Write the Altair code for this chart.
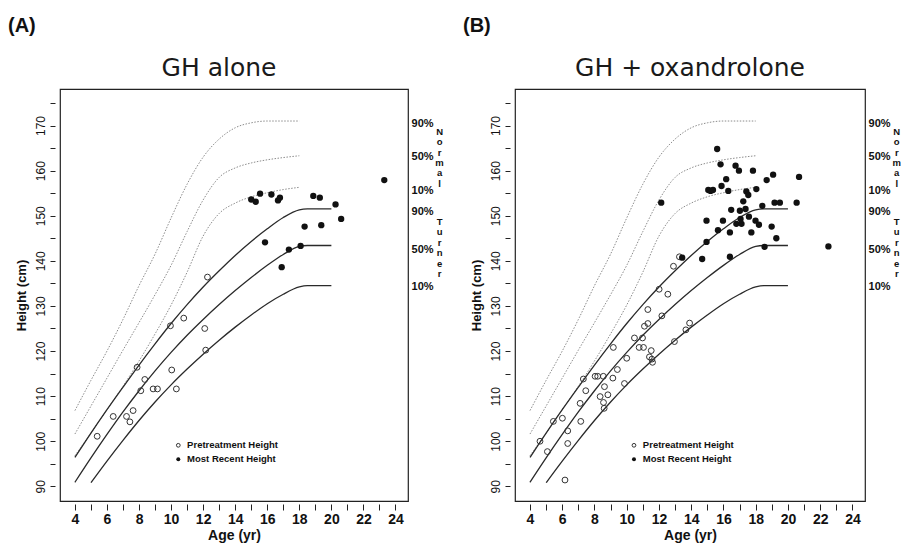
import altair as alt
import pandas as pd

# ---------------- reference curves ----------------
normal_ages = [4, 5, 6, 7, 8, 9, 10, 11, 12, 13, 14, 15, 16, 17, 18]
normal_90 = [106.8, 113.5, 120.0, 127.0, 134.5, 141.5, 149.5, 157.0, 163.0, 167.0, 169.5, 170.6, 171.0, 171.0, 171.0]
normal_50 = [101.6, 107.8, 114.0, 120.2, 126.3, 132.5, 139.0, 146.5, 153.5, 158.5, 160.6, 161.7, 162.4, 162.9, 163.3]
normal_10 = [96.8, 101.8, 107.0, 112.2, 117.8, 123.8, 130.2, 137.5, 145.5, 150.5, 152.8, 154.2, 155.1, 155.8, 156.3]

turner_ages = [4, 5, 6, 7, 8, 9, 10, 11, 12, 13, 14, 15, 16, 17, 18, 18.5, 20]
turner_90 = [96.4, 101.8, 107.0, 112.0, 116.9, 121.6, 126.1, 130.3, 134.2, 137.8, 141.2, 144.3, 147.1, 149.6, 151.3, 151.5, 151.5]
turner_50 = [90.9, 96.3, 101.5, 106.5, 111.2, 115.6, 119.7, 123.5, 127.0, 130.3, 133.4, 136.3, 139.0, 141.4, 143.2, 143.4, 143.4]
turner10_ages = [5, 6, 7, 8, 9, 10, 11, 12, 13, 14, 15, 16, 17, 18, 18.5, 20]
turner_10 = [90.8, 95.6, 100.2, 104.6, 108.7, 112.5, 116.0, 119.3, 122.4, 125.3, 128.0, 130.5, 132.6, 134.2, 134.5, 134.5]

# ---------------- panel A: GH alone ----------------
a_pre_age = [5.39, 6.39, 7.22, 7.43, 7.63, 7.88, 8.11, 8.36, 8.88, 9.15, 9.96, 10.04, 10.33, 10.79, 12.10, 12.16, 12.27]
a_pre_cm = [101.1, 105.5, 105.5, 104.3, 106.8, 116.4, 111.2, 113.7, 111.6, 111.6, 125.6, 115.8, 111.6, 127.3, 125.0, 120.2, 136.4]
a_rec_age = [15.00, 15.28, 15.55, 16.26, 16.67, 16.79, 18.87, 19.28, 20.26, 20.61, 18.33, 19.37, 15.86, 17.35, 18.08, 16.90, 23.30]
a_rec_cm = [153.6, 153.1, 154.9, 154.7, 153.4, 154.0, 154.4, 154.0, 152.5, 149.3, 147.6, 147.9, 144.1, 142.5, 143.3, 138.6, 157.9]

# ---------------- panel B: GH + oxandrolone ----------------
b_pre_age = [4.62, 5.08, 5.45, 6.01, 6.34, 6.34, 6.17, 7.15, 7.11, 7.31, 7.46, 8.04, 8.20, 8.55, 8.62,
             8.35, 8.83, 8.56, 8.60, 9.14, 9.17, 9.42, 9.86, 10.00, 10.48, 10.77, 10.98, 11.04, 11.10,
             11.31, 11.31, 11.52, 11.41, 11.56, 11.60, 12.01, 12.18, 12.55, 12.90, 12.96, 13.67, 13.90, 13.27]
b_pre_cm = [100.0, 97.7, 104.4, 105.1, 102.3, 99.5, 91.4, 104.4, 108.4, 113.8, 111.2, 114.4, 114.4, 114.4, 112.1,
            109.9, 110.3, 108.6, 107.3, 114.0, 120.8, 115.9, 112.8, 118.4, 122.9, 120.8, 122.9, 120.8, 125.5,
            126.1, 129.2, 120.1, 118.7, 118.2, 117.5, 133.7, 127.8, 132.6, 138.8, 122.1, 124.7, 126.2, 140.9]
b_rec_age = [15.61, 15.82, 16.75, 16.96, 17.83, 16.17, 15.88, 15.06, 15.20, 15.35, 16.30, 17.42, 17.54, 18.04,
             18.68, 19.08, 20.69, 20.54, 19.17, 19.50, 18.41, 17.23, 16.48, 17.02, 17.37, 14.95, 15.97, 17.06,
             17.58, 16.80, 17.12, 17.99, 18.20, 18.99, 15.66, 16.40, 17.73, 19.28, 14.95, 18.55, 14.68, 16.40,
             12.14, 13.44, 22.51]
b_rec_cm = [164.8, 161.4, 161.1, 160.0, 160.0, 158.1, 156.6, 155.7, 155.5, 155.7, 155.5, 155.4, 154.6, 155.9,
            157.9, 159.1, 158.6, 152.9, 152.9, 152.9, 152.2, 153.2, 151.3, 151.1, 151.5, 148.9, 148.9, 149.3,
            149.8, 148.2, 148.2, 148.9, 148.0, 147.6, 146.8, 146.3, 146.3, 145.0, 144.2, 143.1, 140.4, 140.9,
            152.9, 140.7, 143.2]

# ---------------- annotation text ----------------
pct_labels = ["90%", "50%", "10%", "90%", "50%", "10%"]
pct_cm = [170.3, 163.1, 155.4, 150.9, 142.3, 134.1]
pct_age = 25.0
normal_letters = ["N", "o", "r", "m", "a", "l"]
normal_letter_cm = [168.6, 166.3, 164.0, 161.7, 159.4, 157.1]
turner_letters = ["T", "u", "r", "n", "e", "r"]
turner_letter_cm = [148.6, 146.3, 144.0, 141.7, 139.4, 137.1]
letter_age = 26.75
legend_labels = ["Pretreatment Height", "Most Recent Height"]
legend_cm = [99.1, 96.0]
legend_marker_age = 10.45
legend_text_age = 11.0

X_DOM = [3.07, 24.78]
Y_DOM = [86.75, 178.1]
FONT = "Liberation Sans"

rows = []
for name, vals in [("n90", normal_90), ("n50", normal_50), ("n10", normal_10)]:
    for a, v in zip(normal_ages, vals):
        rows.append({"age": a, "cm": v, "curve": name})
normal_df = pd.DataFrame(rows)
rows = []
for name, ages, vals in [("t90", turner_ages, turner_90), ("t50", turner_ages, turner_50),
                         ("t10", turner10_ages, turner_10)]:
    for a, v in zip(ages, vals):
        rows.append({"age": a, "cm": v, "curve": name})
turner_df = pd.DataFrame(rows)

pct_df = pd.DataFrame({"age": [pct_age] * len(pct_labels), "cm": pct_cm, "t": pct_labels})
letters_df = pd.DataFrame({"age": [letter_age] * 12,
                           "cm": normal_letter_cm + turner_letter_cm,
                           "t": normal_letters + turner_letters})
leg_text_df = pd.DataFrame({"age": [legend_text_age] * 2, "cm": legend_cm, "t": legend_labels})
leg_open_df = pd.DataFrame({"age": [legend_marker_age], "cm": [legend_cm[0]]})
leg_fill_df = pd.DataFrame({"age": [legend_marker_age], "cm": [legend_cm[1]]})


def panel(pre_age, pre_cm, rec_age, rec_cm, title, tag, width, title_x):
    xs = alt.Scale(domain=X_DOM, nice=False, zero=False)
    ys = alt.Scale(domain=Y_DOM, nice=False, zero=False)
    xax = alt.Axis(values=list(range(4, 25)),
                   labelExpr="datum.value % 2 == 0 ? datum.label : ''",
                   tickSize=6, offset=3, domain=False, grid=False,
                   labelFontSize=14, labelFontWeight="bold", labelPadding=2,
                   labelFlush=False, labelOverlap=False,
                   title="Age (yr)", titleFontSize=14, titleFontWeight="bold", titlePadding=2)
    yax = alt.Axis(values=list(range(90, 180, 5)),
                   labelExpr="datum.value % 10 == 0 ? datum.label : ''",
                   labelAngle=270, tickSize=5, offset=5, domain=False, grid=False,
                   labelFontSize=12, labelPadding=3, labelFlush=False, labelOverlap=False,
                   title="Height (cm)", titleFontSize=13, titleFontWeight="bold", titlePadding=6)
    X = alt.X("age:Q", scale=xs, axis=xax)
    Y = alt.Y("cm:Q", scale=ys, axis=yax)

    normal = alt.Chart(normal_df).mark_line(strokeDash=[1.5, 1.5], color="#8c8c8c", strokeWidth=1,
                                            interpolate="monotone").encode(x=X, y=Y, detail="curve:N")
    turner = alt.Chart(turner_df).mark_line(color="#2a2a2a", strokeWidth=1.3,
                                            interpolate="monotone").encode(x=X, y=Y, detail="curve:N")
    pre = alt.Chart(pd.DataFrame({"age": pre_age, "cm": pre_cm})).mark_point(
        shape="circle", filled=False, size=34, stroke="#333", strokeWidth=1, opacity=1).encode(x=X, y=Y)
    rec = alt.Chart(pd.DataFrame({"age": rec_age, "cm": rec_cm})).mark_circle(
        size=40, color="#111", opacity=1).encode(x=X, y=Y)
    pct = alt.Chart(pct_df).mark_text(align="left", baseline="middle", fontSize=11, fontWeight="bold",
                                      color="#111", font=FONT).encode(x=X, y=Y, text="t:N")
    let = alt.Chart(letters_df).mark_text(align="center", baseline="middle", fontSize=9.5, fontWeight="bold",
                                          color="#111", font=FONT).encode(x=X, y=Y, text="t:N")
    legt = alt.Chart(leg_text_df).mark_text(align="left", baseline="middle", fontSize=9.5, fontWeight="bold",
                                            color="#111", font=FONT).encode(x=X, y=Y, text="t:N")
    lego = alt.Chart(leg_open_df).mark_point(shape="circle", filled=False, size=14, stroke="#333",
                                             strokeWidth=1, opacity=1).encode(x=X, y=Y)
    legf = alt.Chart(leg_fill_df).mark_circle(size=16, color="#111", opacity=1).encode(x=X, y=Y)
    ttl = alt.Chart(pd.DataFrame({"t": [title]})).mark_text(
        align="center", baseline="middle", fontSize=25, font="DejaVu Sans", color="#1a1a1a").encode(
        text="t:N", x=alt.value(title_x), y=alt.value(-21))
    tg = alt.Chart(pd.DataFrame({"t": [tag]})).mark_text(
        align="left", baseline="middle", fontSize=20, fontWeight="bold", font=FONT, color="#111").encode(
        text="t:N", x=alt.value(-52), y=alt.value(-63))
    return alt.layer(normal, turner, pre, rec, pct, let, legt, lego, legf, ttl, tg).properties(
        width=width, height=412)


pa = panel(a_pre_age, a_pre_cm, a_rec_age, a_rec_cm, "GH alone", "(A)", 348, 159)
pb = panel(b_pre_age, b_pre_cm, b_rec_age, b_rec_cm, "GH + oxandrolone", "(B)", 350, 175)

chart = alt.hconcat(pa, pb, spacing=17).properties(
    padding={"left": 7, "top": 15, "right": 0, "bottom": 0},
    background="white",
).configure_view(stroke="#222", strokeWidth=1.2).configure_axis(
    labelFont=FONT, titleFont=FONT, labelColor="#111", titleColor="#111", tickColor="#222", tickWidth=1
)

chart.save("out.html", embed_options={"renderer": "svg", "actions": False})
